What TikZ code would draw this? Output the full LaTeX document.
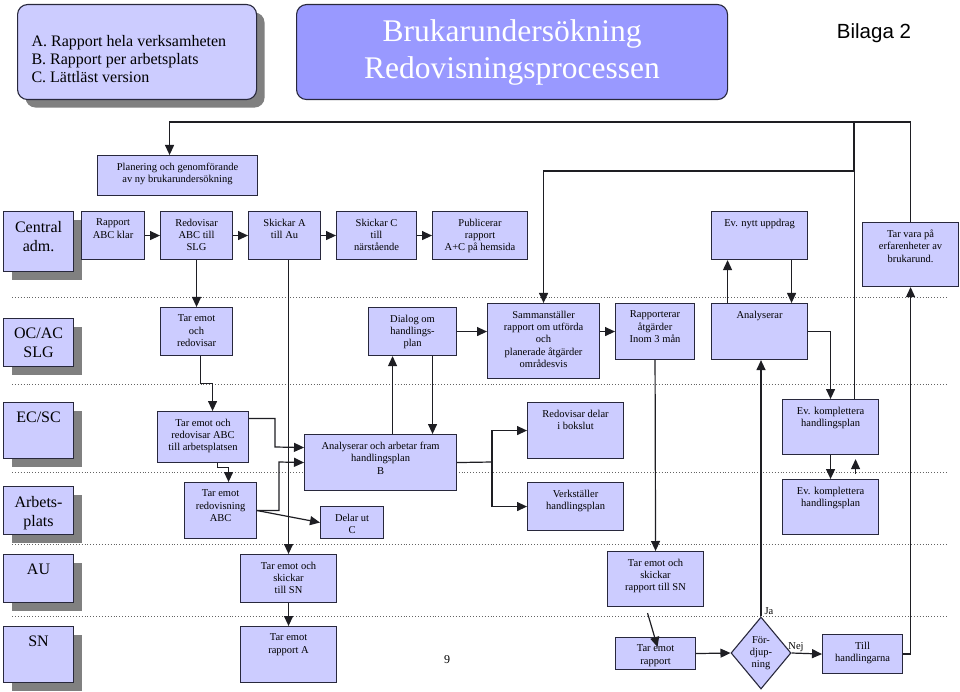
\documentclass[tikz,border=0pt]{standalone}
\usepackage{fontspec}
\setmainfont{Liberation Serif}
\newfontfamily\arialf{Liberation Sans}
\usetikzlibrary{arrows.meta,shapes.geometric,shadows,calc}
\definecolor{boxfill}{RGB}{204,204,255}
\definecolor{titlefill}{RGB}{153,153,255}
\definecolor{lnc}{RGB}{30,30,35}
\definecolor{bordc}{RGB}{40,40,60}
\definecolor{shd}{RGB}{128,128,128}
\definecolor{dotc}{RGB}{100,100,100}
\newcommand\bx[6]{\node[bxs] (#1) at (#2,#3) {\parbox[c][\dimexpr#5pt-#3pt\relax][t]{\dimexpr#4pt-#2pt\relax}{\centering\vspace*{7.5pt}#6\par}};}
\newcommand\lane[4]{\node[lanes] (#1) at (3,#2) {\parbox[c][\dimexpr#3pt-#2pt\relax][t]{70pt}{\centering\vspace*{9.5pt}#4\par}};}
\begin{document}
\begin{tikzpicture}[x=1pt,y=-1pt,
  bxs/.style={draw=bordc, fill=boxfill, line width=1.1pt, inner sep=0pt, anchor=north west, font=\fontsize{10.5}{12.3}\selectfont},
  lanes/.style={draw=bordc, fill=boxfill, line width=1.1pt, inner sep=0pt, anchor=north west, font=\fontsize{16}{19}\selectfont, drop shadow={shadow xshift=8pt, shadow yshift=-8pt, opacity=1, fill=shd, draw=none}},
  ar/.style={draw=lnc, line width=1.2pt, -{Triangle[length=10pt,width=9pt]}},
  ln/.style={draw=lnc, line width=1.2pt},
  sep/.style={draw=dotc, line width=0.9pt, dotted},
  lbl/.style={font=\fontsize{10.5}{12.3}\selectfont, inner sep=0pt}
]
\fill[white] (0,0) rectangle (960,692);
\useasboundingbox (0,0) rectangle (960,692);

% lane separators
\foreach \yy in {297,384,472,544,616} \draw[sep] (12,\yy) -- (946,\yy);

% header
\node[draw=bordc, fill=boxfill, line width=1.1pt, rounded corners=10pt, inner sep=0pt, anchor=north west,
  drop shadow={shadow xshift=8pt, shadow yshift=-8pt, opacity=1, fill=shd, draw=none},
  font=\fontsize{16}{18}\selectfont] (info) at (17,4)
  {\parbox[c][95pt][t]{239pt}{\raggedright\leftskip=14pt\vspace*{31pt}A. Rapport hela verksamheten\\B. Rapport per arbetsplats\\C. Lättläst version\par}};
\node[draw=bordc, fill=titlefill, line width=1.1pt, rounded corners=10pt, inner sep=0pt, anchor=north west,
  text=white, font=\fontsize{31.5}{37}\selectfont] (title) at (296,4)
  {\parbox[c][95pt][c]{431pt}{\centering Brukarundersökning\\Redovisningsprocessen\par}};
\node[font=\arialf\fontsize{20.5}{24}\selectfont, inner sep=0pt] (bil) at (874,33.5) {Bilaga 2};

% lane labels
\lane{lca}{211}{271}{Central\\adm.}
\lane{loc}{318}{366}{OC/AC\\SLG}
\lane{lec}{402}{458}{EC/SC}
\lane{lap}{486}{534}{Arbets-\\plats}
\lane{lau}{554}{602}{AU}
\lane{lsn}{626}{682}{SN}

% boxes
\bx{plan}{97}{155}{257}{195}{Planering och genomförande\\av ny brukarundersökning}
\bx{rab}{81}{211}{144}{259}{Rapport\\ABC klar}
\bx{redabc}{160}{211}{232}{259}{Redovisar\\ABC till\\SLG}
\bx{ska}{248}{211}{320}{259}{Skickar A\\till Au}
\bx{skc}{336}{211}{416}{259}{Skickar C\\till\\närstående}
\bx{pub}{432}{211}{527}{259}{Publicerar\\rapport\\A+C på hemsida}
\bx{evn}{711}{211}{807}{259}{Ev. nytt uppdrag}
\bx{tvp}{862}{222}{958}{286}{Tar vara på\\erfarenheter av\\brukarund.}

\bx{tor}{160}{307}{232}{355}{Tar emot\\och\\redovisar}
\bx{dia}{368}{307}{456}{355}{Dialog om\\handlings-\\plan}
\bx{sam}{487}{303}{599}{378}{Sammanställer\\rapport om utförda\\och\\planerade åtgärder\\områdesvis}
\bx{rap}{615}{303}{694}{359}{Rapporterar\\åtgärder\\Inom 3 mån}
\bx{ana}{711}{303}{807}{359}{Analyserar}

\bx{tabc}{157}{411}{248}{462}{Tar emot och\\redovisar ABC\\till arbetsplatsen}
\bx{anb}{304}{434}{456}{490}{Analyserar och arbetar fram\\handlingsplan\\B}
\bx{rdb}{527}{402}{623}{458}{Redovisar delar\\i bokslut}
\bx{evka}{782}{399}{878}{454}{Ev. komplettera\\handlingsplan}

\bx{trabc}{184}{482}{256}{538}{Tar emot\\redovisning\\ABC}
\bx{duc}{320}{506}{383}{538}{Delar ut\\C}
\bx{vhp}{527}{482}{623}{530}{Verkställer\\handlingsplan}
\bx{evkb}{782}{479}{878}{534}{Ev. komplettera\\handlingsplan}

\bx{aus}{240}{554}{336}{602}{Tar emot och\\skickar\\till SN}
\bx{aur}{607}{551}{703}{606}{Tar emot och\\skickar\\rapport till SN}

\bx{sna}{240}{626}{336}{682}{Tar emot\\rapport A}
\bx{snr}{615}{637}{695}{669}{Tar emot\\rapport}
\node[diamond, draw=bordc, fill=boxfill, line width=1.1pt, minimum width=60pt, minimum height=72pt, inner sep=0pt,
  align=center, font=\fontsize{10.5}{12.3}\selectfont] (fd) at (761,653) {För-\\djup-\\ning};
\bx{tha}{822}{634}{902}{673}{Till\\handlingarna}

\node[lbl] (ja) at (769,611) {Ja};
\node[lbl] (nej) at (796,647) {Nej};
\node[font=\fontsize{12}{14}\selectfont, inner sep=0pt] (pgn) at (447,660) {9};

% coordinates
\coordinate (j1) at (854,171);
\coordinate (j2) at (854,122);
\coordinate (pn) at ([xshift=-8pt]plan.north);
\coordinate (sp) at (492,462);

% central row
\draw[ar] (rab.east) -- (redabc.west);
\draw[ar] (redabc.east) -- (ska.west);
\draw[ar] (ska.east) -- (skc.west);
\draw[ar] (skc.east) -- (pub.west);
\draw[ar] (redabc.south) -- (tor.north);

% feedback loops at the top
\draw[ar] (tvp.north) |- (pn |- j2) -- (pn);
\draw[ln] (j1) -- (j2);
\draw[ar] ([xshift=24pt]evka.north) |- (sam.north |- j1) -- (sam.north);

% OC row
\draw[ar] ([xshift=4pt]tor.south) -- ++(0,27) -| ([xshift=9.5pt]tabc.north);
\draw[ar] (dia.east) -- (dia.east -| sam.west);
\draw[ar] (rap.west -| sam.east) -- (rap.west);
\draw[ar] ([xshift=-32pt]ana.north) -- ([xshift=-32pt]evn.south);
\draw[ar] ([xshift=32pt]evn.south) -- ([xshift=32pt]ana.north);
\draw[ar] (ana.east) -| (evka.north);
\draw[ar] (rap.south) -- (aur.north);

% EC / Arbetsplats rows
\draw[ar] ([yshift=18.5pt]tabc.east) -| (275,447) -- ([yshift=15pt]anb.west);
\draw[ar] ([xshift=14.5pt]tabc.south) -- ++(0,4) -| ([xshift=8pt]trabc.north);
\draw[ar] (trabc.east) -| (279,462) -- (anb.west);
\draw[ar] (trabc.east) -- (duc.west);
\draw[ar] ([xshift=12pt]anb.north) -- ([xshift=-20pt]dia.south);
\draw[ar] ([xshift=20pt]dia.south) -- ([xshift=52pt]anb.north);
\draw[ln] (anb.east) -- (sp);
\draw[ar] (sp) |- (rdb.west);
\draw[ar] (sp) |- (vhp.west);
\draw[ar] (evka.south) -- (evkb.north);
\draw[ar, shorten <=5pt, shorten >=4pt] ([xshift=25pt]evkb.north) -- ([xshift=25pt]evka.south);

% AU / SN
\draw[ar] (ska.south -| aus.north) -- (aus.north);
\draw[ar] (aus.south) -- (sna.north);
\draw[ar] ([xshift=-8pt,yshift=-6pt]aur.south) -- ([xshift=2pt,yshift=-10pt]snr.north);
\draw[ar] (snr.east) -- (fd.west);
\draw[ar] (fd.east) -- (tha.west);
\draw[ar] (fd.north) -- (fd.north |- ana.south);
\draw[ar] (tha.east) -| (tvp.south);
\end{tikzpicture}
\end{document}
